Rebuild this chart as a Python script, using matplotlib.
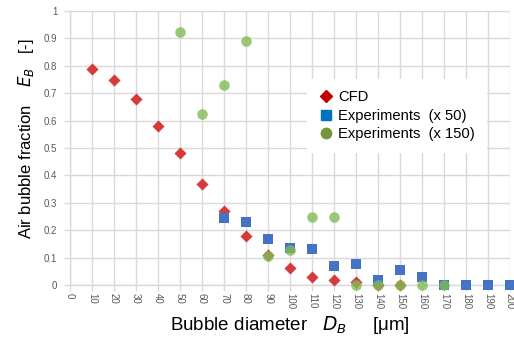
import matplotlib
matplotlib.use("Agg")
import matplotlib.pyplot as plt
from matplotlib.lines import Line2D

plt.rcParams['font.family'] = ['Liberation Sans', 'DejaVu Sans']

cfd_x = [10, 20, 30, 40, 50, 60, 70, 80, 90, 100, 110, 120, 130, 140, 150]
cfd_y = [0.79, 0.75, 0.68, 0.58, 0.48, 0.37, 0.27, 0.18, 0.11, 0.063, 0.03, 0.02, 0.012, 0.0, 0.0]

exp50_x = [70, 80, 90, 100, 110, 120, 130, 140, 150, 160, 170, 180, 190, 200]
exp50_y = [0.246, 0.231, 0.169, 0.136, 0.13, 0.068, 0.078, 0.018, 0.056, 0.03, 0.0, 0.0, 0.0, 0.0]

exp150_x = [50, 60, 70, 80, 90, 100, 110, 120, 130, 140, 150, 160, 170]
exp150_y = [0.923, 0.625, 0.729, 0.89, 0.106, 0.128, 0.249, 0.249, 0.0, 0.0, 0.0, 0.0, 0.0]

x_ticks = list(range(0, 201, 10))
y_ticks = [0, 0.1, 0.2, 0.3, 0.4, 0.5, 0.6, 0.7, 0.8, 0.9, 1]

fig = plt.figure(figsize=(5.14, 3.45), dpi=100)
ax = fig.add_axes([70/514, 1-285/345, 440/514, 274/345])

grid_c = '#d9d9d9'
ax.scatter(cfd_x, cfd_y, marker='D', s=38, color='#d63b3b', zorder=3, clip_on=False, linewidths=0)
ax.scatter(exp50_x, exp50_y, marker='s', s=58, color='#4472c4', zorder=4, clip_on=False, linewidths=0)
ax.scatter(exp150_x, exp150_y, marker='o', s=58, color='#80bb55', alpha=0.8, zorder=5, clip_on=False, linewidths=0)

ax.set_xlim(0, 200)
ax.set_ylim(0, 1)
ax.set_xticks(x_ticks)
ax.set_yticks(y_ticks)
ax.set_xticklabels([str(v) for v in x_ticks], rotation=-90, fontsize=7, color='#595959')
ax.set_yticklabels([('%g' % v) for v in y_ticks], fontsize=7, color='#595959')
ax.grid(True, color=grid_c, linewidth=1.0, zorder=0)
ax.set_axisbelow(True)
for s in ['top', 'right']:
    ax.spines[s].set_visible(False)
for s in ['left', 'bottom']:
    ax.spines[s].set_color(grid_c)
    ax.spines[s].set_linewidth(1.0)
ax.tick_params(axis='both', color=grid_c, length=4, width=1)
ax.tick_params(axis='x', pad=2)
ax.tick_params(axis='y', pad=5)

ax.set_xlabel('Bubble diameter   $D_B$     [\u03bcm]', fontsize=13.5, labelpad=3)
ax.set_ylabel('Air bubble fraction    $E_B$   [-]', fontsize=12, labelpad=8)
ax.yaxis.set_label_coords(-0.077, 0.535)

handles = [
    Line2D([], [], linestyle='none', marker='D', markersize=6.5, color='#c00000'),
    Line2D([], [], linestyle='none', marker='s', markersize=7.5, color='#0070c0'),
    Line2D([], [], linestyle='none', marker='o', markersize=7.5, color='#77933c'),
]
labels = ['CFD', 'Experiments  (x 50)', 'Experiments  (x 150)']
leg = ax.legend(handles, labels, loc='upper left', bbox_to_anchor=(0.523, 0.78),
                frameon=True, fontsize=10.6, handlelength=0.9, handletextpad=0.4,
                labelspacing=0.3, borderpad=0.8, fancybox=False, framealpha=1)
leg.get_frame().set_edgecolor('white')
leg.get_frame().set_linewidth(0)
leg.set_zorder(10)

fig.savefig('out.png', dpi=100)
